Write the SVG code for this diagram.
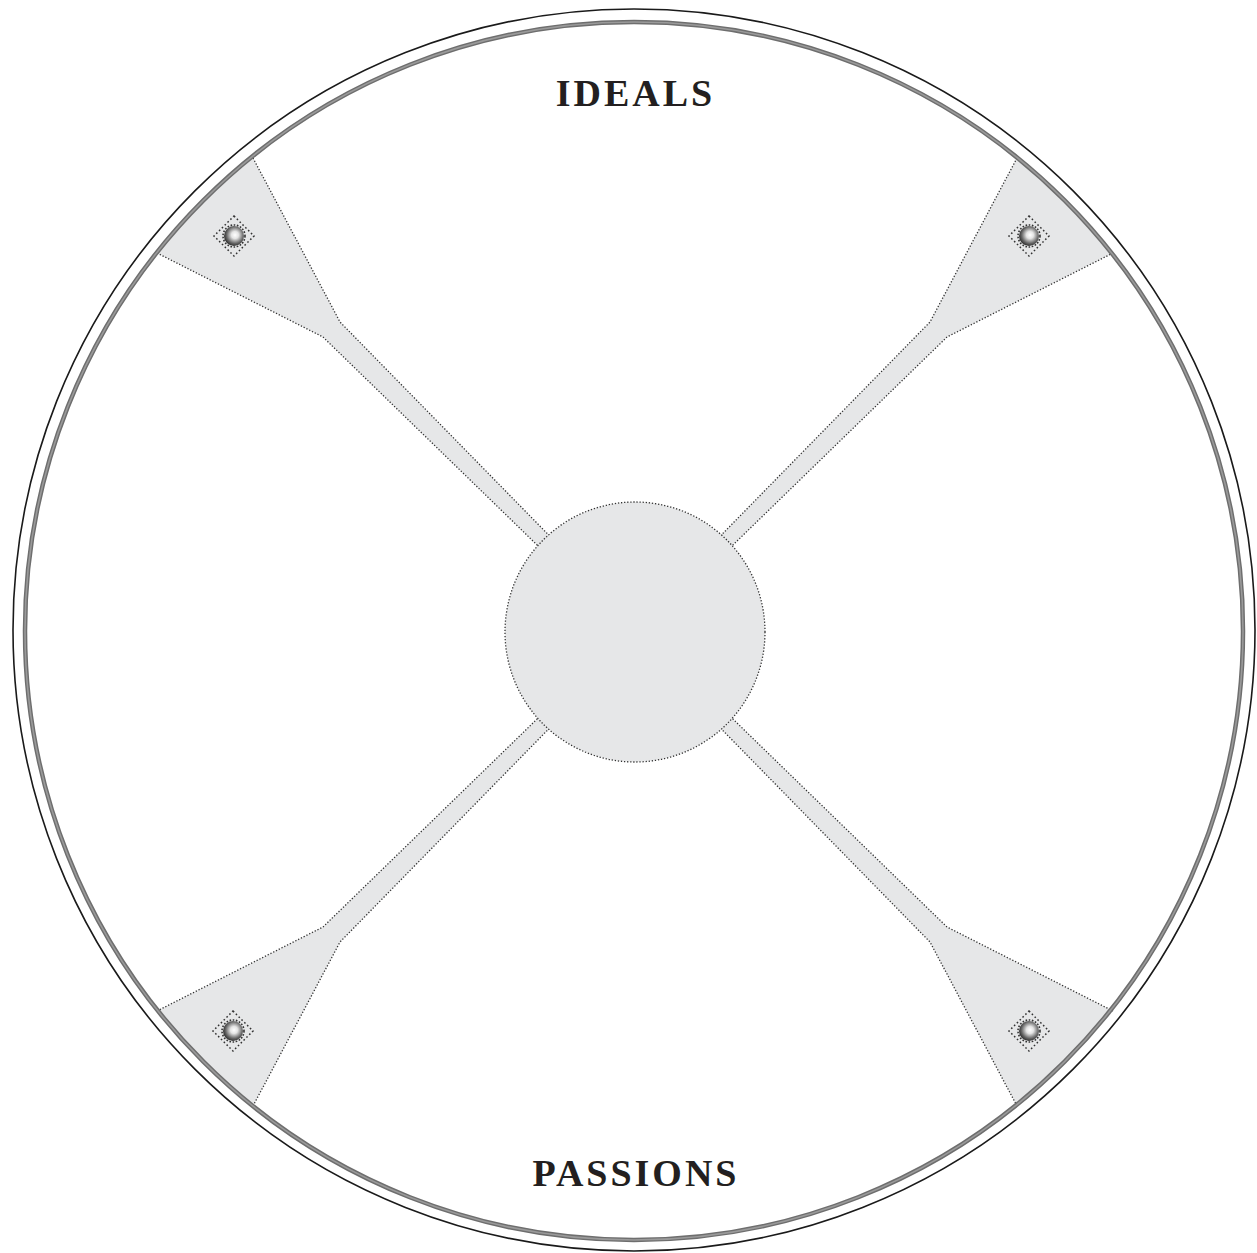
<svg xmlns="http://www.w3.org/2000/svg" width="1257" height="1253" viewBox="0 0 1257 1253">
<style>
.arm{fill:#e6e7e8;stroke:none}
.edge{fill:none;stroke:#333333;stroke-width:1.3;stroke-dasharray:1.3 1.8}
.disc{fill:#e6e7e8;stroke:#333333;stroke-width:1.3;stroke-dasharray:1.3 1.8}
.dia{fill:none;stroke:#333333;stroke-width:1.5;stroke-dasharray:1.6 2.4}
.ring{fill:none;stroke:#333333;stroke-width:1.6;stroke-dasharray:1.6 1.6}
.lbl{font-family:"Liberation Serif","Times New Roman",serif;font-weight:bold;font-size:38px;letter-spacing:3px;fill:#231f20;text-anchor:middle}
</style>
<defs>
<radialGradient id="ballg" cx="0.55" cy="0.45" r="0.6">
<stop offset="0" stop-color="#ffffff"/>
<stop offset="0.3" stop-color="#e4e4e4"/>
<stop offset="0.7" stop-color="#666666"/>
<stop offset="1" stop-color="#1e1e1e"/>
</radialGradient>
<g id="armshape">
<path class="arm" d="M253,158 L340,322 L578,565 L569,576 L323,337 L157,253 A610,610 0 0,1 253,158 Z"/>
<path class="edge" d="M253,158 L340,322 L578,565 M157,253 L323,337 L569,576"/>
</g>
<g id="bolt">
<path class="dia" d="M0,-20 L20,0 L0,20 L-20,0 Z"/>
<circle class="ring" r="11"/>
<circle r="10" fill="url(#ballg)"/>
</g>
</defs>
<rect width="1257" height="1253" fill="#ffffff"/>
<g id="frame">
<circle cx="634" cy="630" r="621" fill="none" stroke="#1a1a1a" stroke-width="1.6"/>
</g>
<g id="connectors">
<use href="#armshape"/>
<use href="#armshape" transform="translate(1270,0) scale(-1,1)"/>
<use href="#armshape" transform="translate(0,1264) scale(1,-1)"/>
<use href="#armshape" transform="translate(1270,1264) scale(-1,-1)"/>
</g>
<g id="rim">
<circle cx="634" cy="631" r="609" fill="none" stroke="#6e6e6e" stroke-width="4.5"/>
<circle cx="634" cy="631" r="609" fill="none" stroke="#9a9a9a" stroke-width="1.6"/>
</g>
<g id="hub">
<circle class="disc" cx="635" cy="632" r="130"/>
</g>
<g id="bolt-tl"><use href="#bolt" x="234" y="236"/></g>
<g id="bolt-tr"><use href="#bolt" x="1029" y="236"/></g>
<g id="bolt-bl"><use href="#bolt" x="233" y="1031"/></g>
<g id="bolt-br"><use href="#bolt" x="1029" y="1031"/></g>
<g id="label-ideals"><text class="lbl" x="635.5" y="106">IDEALS</text></g>
<g id="label-passions"><text class="lbl" x="636" y="1186">PASSIONS</text></g>
</svg>
